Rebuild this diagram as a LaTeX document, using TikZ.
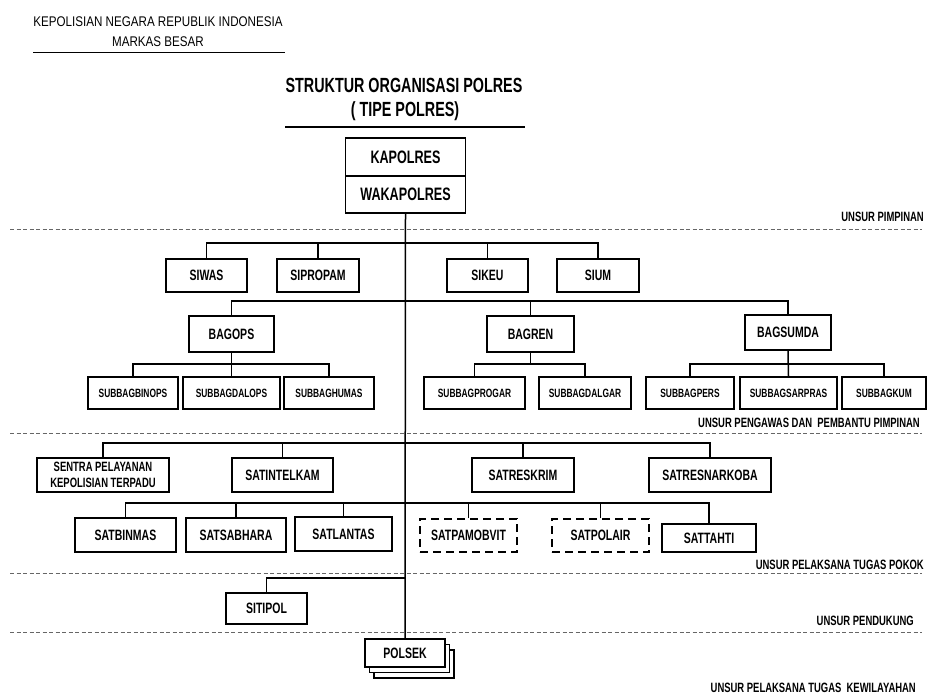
\documentclass[tikz,border=0pt]{standalone}
\usepackage{fontspec}
\setmainfont{Liberation Sans}[FakeStretch=0.70]
\newfontfamily\headfont{Liberation Sans}[FakeStretch=0.83]

\begin{document}
\begin{tikzpicture}[
    x=1pt, y=-1pt,
    unit/.style={draw, line width=1.5pt, fill=white, inner sep=1pt, align=center, font=\bfseries\fontsize{15}{17}\selectfont},
    subunit/.style={unit, font=\bfseries\fontsize{12}{14}\selectfont, minimum height=32pt},
    optunit/.style={unit, dash pattern=on 8pt off 5pt},
    link/.style={line width=1.5pt},
    zone/.style={line width=0.9pt, black!60, dash pattern=on 4pt off 2.5pt},
    zonelabel/.style={anchor=east, inner sep=0pt, font=\bfseries\fontsize{13.5}{15}\selectfont},
    headtext/.style={inner sep=0pt, font=\headfont\fontsize{14}{16}\selectfont},
    titletext/.style={inner sep=0pt, font=\bfseries\fontsize{20.5}{23}\selectfont}
]
    \useasboundingbox (0,0) rectangle (928,699);

    % header
    \node[headtext] (hdrA) at (158,22) {KEPOLISIAN NEGARA REPUBLIK INDONESIA};
    \node[headtext] (hdrB) at (158,42) {MARKAS BESAR};
    \draw[line width=1pt] (33,52) -- (285,52);

    \node[titletext] (title) at (404,85) {STRUKTUR ORGANISASI POLRES};
    \node[titletext] (subtitle) at (405,111) {( TIPE POLRES)};
    \draw[line width=1.5pt] (285,127) -- (525,127);

    % zones
    \draw[zone] (10,229) -- (922,229);
    \draw[zone] (10,433) -- (922,433);
    \draw[zone] (10,573) -- (922,573);
    \draw[zone] (10,632) -- (922,632);
    \node[zonelabel] (zPimpinan) at (924,217) {UNSUR PIMPINAN};
    \node[zonelabel] (zPengawas) at (920,423) {UNSUR PENGAWAS DAN\ \ PEMBANTU PIMPINAN};
    \node[zonelabel] (zPokok) at (924,565) {UNSUR PELAKSANA TUGAS POKOK};
    \node[zonelabel] (zPendukung) at (914,621) {UNSUR PENDUKUNG};
    \node[zonelabel] (zWilayah) at (916,688) {UNSUR PELAKSANA TUGAS\ \ KEWILAYAHAN};

    % pimpinan
    \node[unit, font=\bfseries\fontsize{18}{20}\selectfont, minimum width=120pt, minimum height=38pt] (kapolres) at (405.5,157) {KAPOLRES};
    \node[unit, font=\bfseries\fontsize{18}{20}\selectfont, minimum width=120pt, minimum height=37pt] (wakapolres) at (405.5,194.5) {WAKAPOLRES};

    % pengawas
    \node[unit, minimum width=81pt, minimum height=33pt] (siwas) at (206.5,275.5) {SIWAS};
    \node[unit, minimum width=82pt, minimum height=33pt] (sipropam) at (318,275.5) {SIPROPAM};
    \node[unit, minimum width=81pt, minimum height=33pt] (sikeu) at (487.5,275.5) {SIKEU};
    \node[unit, minimum width=82pt, minimum height=33pt] (sium) at (598,275.5) {SIUM};

    % pembantu pimpinan
    \node[unit, minimum width=85pt, minimum height=36pt] (bagops) at (231.5,334) {BAGOPS};
    \node[unit, minimum width=87pt, minimum height=36pt] (bagren) at (530.5,334) {BAGREN};
    \node[unit, minimum width=86pt, minimum height=35pt] (bagsumda) at (788,332.5) {BAGSUMDA};

    \node[subunit, minimum width=90pt] (binops) at (133,393) {SUBBAGBINOPS};
    \node[subunit, minimum width=97pt] (dalops) at (231.5,393) {SUBBAGDALOPS};
    \node[subunit, minimum width=90pt] (humas) at (329,393) {SUBBAGHUMAS};
    \node[subunit, minimum width=101pt] (progar) at (474.5,393) {SUBBAGPROGAR};
    \node[subunit, minimum width=92pt] (dalgar) at (585,393) {SUBBAGDALGAR};
    \node[subunit, minimum width=88pt] (pers) at (690,393) {SUBBAGPERS};
    \node[subunit, minimum width=97pt] (sarpras) at (788.5,393) {SUBBAGSARPRAS};
    \node[subunit, minimum width=84pt] (kum) at (884,393) {SUBBAGKUM};

    % pelaksana tugas pokok
    \node[unit, font=\bfseries\fontsize{13.5}{16}\selectfont, minimum width=132pt, minimum height=34pt] (sentra) at (103,475) {SENTRA PELAYANAN\\KEPOLISIAN TERPADU};
    \node[unit, minimum width=101pt, minimum height=34pt] (satintelkam) at (282.5,475) {SATINTELKAM};
    \node[unit, minimum width=102pt, minimum height=34pt] (satreskrim) at (523,475) {SATRESKRIM};
    \node[unit, minimum width=122pt, minimum height=34pt] (satresnarkoba) at (710,475) {SATRESNARKOBA};

    \node[unit, minimum width=101pt, minimum height=34pt] (satbinmas) at (125.5,535) {SATBINMAS};
    \node[unit, minimum width=100pt, minimum height=34pt] (satsabhara) at (236,535) {SATSABHARA};
    \node[unit, minimum width=97pt, minimum height=34pt] (satlantas) at (343.5,534) {SATLANTAS};
    \node[optunit, minimum width=97pt, minimum height=33pt] (satpamobvit) at (468.5,535.5) {SATPAMOBVIT};
    \node[optunit, minimum width=97pt, minimum height=33pt] (satpolair) at (600.5,535.5) {SATPOLAIR};
    \node[unit, minimum width=94pt, minimum height=28pt] (sattahti) at (709,538) {SATTAHTI};

    % pendukung
    \node[unit, minimum width=81pt, minimum height=31pt] (sitipol) at (266.5,608.5) {SITIPOL};

    % kewilayahan
    \node[unit, minimum width=80pt, minimum height=28pt] (polsekC) at (414,664) {};
    \node[unit, minimum width=80pt, minimum height=28pt] (polsekB) at (409.5,658.5) {};
    \node[unit, minimum width=80pt, minimum height=28pt] (polsek) at (405,653) {POLSEK};

    % connectors
    \coordinate (siBar) at (405,243);
    \coordinate (bagBar) at (405,301);
    \coordinate (opsBar) at (231.5,364);
    \coordinate (renBar) at (530.5,364);
    \coordinate (sumdaBar) at (788,364);
    \coordinate (satBar) at (405,443);
    \coordinate (satBarB) at (405,503);
    \coordinate (tipolBar) at (405,578);

    \draw[link] (wakapolres.south) -- (polsek.north);

    \draw[link] (siwas.north) |- (siBar) -| (sium.north);
    \draw[link] (sipropam.north) -- (sipropam.north |- siBar);
    \draw[link] (sikeu.north) -- (sikeu.north |- siBar);

    \draw[link] (bagops.north) |- (bagBar) -| (bagsumda.north);
    \draw[link] (bagren.north) -- (bagren.north |- bagBar);

    \draw[link] (bagops.south) -- (dalops.north);
    \draw[link] (binops.north) |- (opsBar) -| (humas.north);
    \draw[link] (bagren.south) -- (renBar);
    \draw[link] (progar.north) |- (renBar) -| (dalgar.north);
    \draw[link] (bagsumda.south) -- (sarpras.north);
    \draw[link] (pers.north) |- (sumdaBar) -| (kum.north);

    \draw[link] (sentra.north) |- (satBar) -| (satresnarkoba.north);
    \draw[link] (satintelkam.north) -- (satintelkam.north |- satBar);
    \draw[link] (satreskrim.north) -- (satreskrim.north |- satBar);

    \draw[link] (satbinmas.north) |- (satBarB) -| (sattahti.north);
    \draw[link] (satsabhara.north) -- (satsabhara.north |- satBarB);
    \draw[link] (satlantas.north) -- (satlantas.north |- satBarB);
    \draw[link] (satpamobvit.north) -- (satpamobvit.north |- satBarB);
    \draw[link] (satpolair.north) -- (satpolair.north |- satBarB);

    \draw[link] (sitipol.north) |- (tipolBar);
\end{tikzpicture}
\end{document}
